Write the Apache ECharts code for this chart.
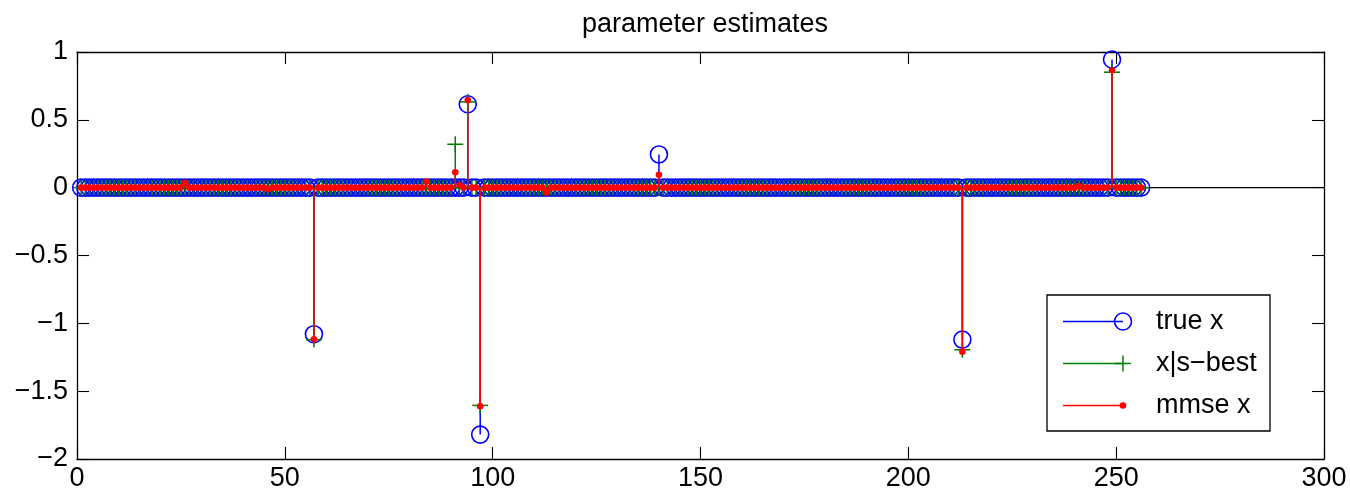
<!DOCTYPE html>
<html>
<head>
<meta charset="utf-8">
<script src="https://cdn.jsdelivr.net/npm/echarts@6/dist/echarts.min.js"></script>
<style>
  html, body { margin: 0; padding: 0; background: #fff; }
  #main { width: 1350px; height: 497px; }
</style>
</head>
<body>
<div id="main"></div>
<script>
// stem plot: 256 parameters, most of them zero
const N = 256;

const trueIdx = [57, 94, 97, 140, 213, 249];
const trueVal = [-1.08, 0.615, -1.82, 0.245, -1.12, 0.945];

const bestIdx = [57, 91, 94, 97, 213, 249];
const bestVal = [-1.12, 0.32, 0.632, -1.605, -1.195, 0.851];

const mmseIdx = [26, 46, 57, 84, 91, 92, 94, 97, 113, 140, 213, 241, 249];
const mmseVal = [0.035, -0.012, -1.118, 0.045, 0.113, 0.02, 0.645, -1.612, -0.035, 0.095, -1.21, 0.012, 0.866];

const xRange = [0, 300];
const yRange = [-2, 1];
const seriesNames = ['true x', 'x|s\u2212best', 'mmse x'];

const FONT = '"Liberation Sans", Arial, Helvetica, sans-serif';
const BLUE = '#0000ff', GREEN = '#008000', RED = '#ff0000';

// full vector, zero everywhere except the read-off entries
function expand(idx, val) {
  const out = [];
  for (let i = 1; i <= N; i++) out.push([i, 0]);
  idx.forEach((k, j) => { out[k - 1][1] = val[j]; });
  return out;
}

// returns a flat list of shapes for one marker
function marker(kind, x, y, color) {
  if (kind === 'circle') {
    return [{ type: 'circle', shape: { cx: x, cy: y, r: 8.5 }, style: { fill: 'none', stroke: color, lineWidth: 1.6 } }];
  }
  if (kind === 'plus') {
    return [
      { type: 'line', shape: { x1: x - 8, y1: y, x2: x + 8, y2: y }, style: { stroke: color, lineWidth: 1.5 } },
      { type: 'line', shape: { x1: x, y1: y - 8, x2: x, y2: y + 8 }, style: { stroke: color, lineWidth: 1.5 } }
    ];
  }
  return [{ type: 'circle', shape: { cx: x, cy: y, r: 3.3 }, style: { fill: color, stroke: null } }];
}

function stem(kind, color) {
  return function (params, api) {
    const p = api.coord([api.value(0), api.value(1)]);
    const b = api.coord([api.value(0), 0]);
    return { type: 'group', children: [
      { type: 'line', shape: { x1: p[0], y1: b[1], x2: p[0], y2: p[1] }, style: { stroke: color, lineWidth: 1.5 } }
    ].concat(marker(kind, p[0], p[1], color)) };
  };
}

const chart = echarts.init(document.getElementById('main'), null, { renderer: 'canvas' });

const axisCommon = {
  axisLine: { show: true, onZero: false, lineStyle: { color: '#000', width: 1.3 } },
  axisTick: { show: true, inside: true, length: 12, lineStyle: { color: '#000', width: 1.1 } },
  splitLine: { show: false }
};
const labelStyle = { color: '#000', fontSize: 27, fontFamily: FONT };
const minusFmt = v => String(v).replace('-', '\u2212');

// legend box, drawn by hand to get the MATLAB look
const L = { x: 1047, y: 295, w: 223, h: 136 };
const rowY = [321.5, 363.5, 405.5];
const legendItems = [];
legendItems.push({ type: 'rect', shape: { x: L.x, y: L.y, width: L.w, height: L.h }, style: { fill: '#fff', stroke: '#000', lineWidth: 1.3 }, z: 100 });
[BLUE, GREEN, RED].forEach((c, i) => {
  legendItems.push({ type: 'rect', shape: { x: 1063, y: rowY[i] - 0.75, width: 60, height: 1.5 }, style: { fill: c }, z: 101 });
  marker(['circle', 'plus', 'dot'][i], 1123, rowY[i], c).forEach(m => {
    m.z = 102;
    legendItems.push(m);
  });
  legendItems.push({ type: 'text', x: 1156, y: rowY[i], z: 101,
    style: { text: seriesNames[i], fill: '#000', font: '27px ' + FONT, verticalAlign: 'middle' } });
});

chart.setOption({
  animation: false,
  backgroundColor: '#fff',
  title: {
    text: 'parameter estimates',
    left: 700, top: 6, textAlign: 'center',
    textStyle: { color: '#000', fontSize: 27, fontWeight: 'normal', fontFamily: FONT }
  },
  grid: { left: 77, right: 26, top: 52, bottom: 38 },
  xAxis: [
    Object.assign({ type: 'value', min: xRange[0], max: xRange[1], interval: 50, position: 'bottom',
      axisLabel: Object.assign({ margin: 6 }, labelStyle) }, axisCommon),
    Object.assign({ type: 'value', min: xRange[0], max: xRange[1], interval: 50, position: 'top',
      axisLabel: { show: false } }, axisCommon)
  ],
  yAxis: [
    Object.assign({ type: 'value', min: yRange[0], max: yRange[1], interval: 0.5, position: 'left',
      axisLabel: Object.assign({ margin: 9, formatter: minusFmt }, labelStyle) }, axisCommon),
    Object.assign({ type: 'value', min: yRange[0], max: yRange[1], interval: 0.5, position: 'right',
      axisLabel: { show: false } }, axisCommon)
  ],
  series: [
    {
      name: 'baseline', type: 'line', data: [[xRange[0], 0], [xRange[1], 0]],
      symbol: 'none', lineStyle: { color: '#000', width: 1.2 }, z: 1, silent: true
    },
    { name: seriesNames[0], type: 'custom', renderItem: stem('circle', BLUE), data: expand(trueIdx, trueVal), z: 2, clip: false },
    { name: seriesNames[1], type: 'custom', renderItem: stem('plus', GREEN), data: expand(bestIdx, bestVal), z: 3, clip: false },
    { name: seriesNames[2], type: 'custom', renderItem: stem('dot', RED), data: expand(mmseIdx, mmseVal), z: 4, clip: false }
  ],
  graphic: legendItems
});
</script>
</body>
</html>
